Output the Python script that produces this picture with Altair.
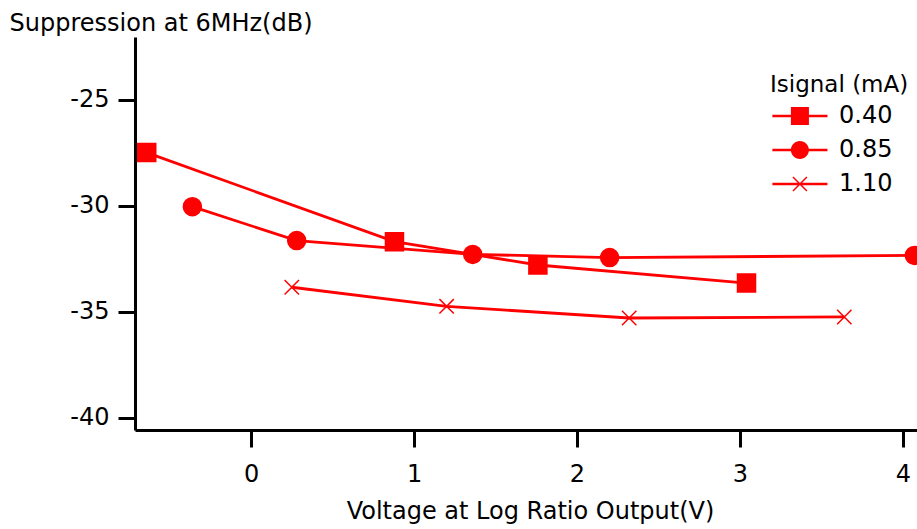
import altair as alt
import pandas as pd

# ---- data ----
series_labels = ["0.40", "0.85", "1.10"]

x_040 = [-0.64, 0.88, 1.76, 3.04]
y_040 = [-27.5, -31.7, -32.8, -33.65]

x_085 = [-0.36, 0.28, 1.36, 2.20, 4.07]
y_085 = [-30.05, -31.65, -32.3, -32.45, -32.35]

x_110 = [0.25, 1.20, 2.32, 3.64]
y_110 = [-33.85, -34.75, -35.3, -35.25]

x_ticks = [0, 1, 2, 3, 4]
y_ticks = [-25, -30, -35, -40]

rows = []
for lab, xs, ys in zip(series_labels, [x_040, x_085, x_110], [y_040, y_085, y_110]):
    for i, (xv, yv) in enumerate(zip(xs, ys)):
        rows.append({"series": lab, "x": xv, "y": yv, "order": i})
df = pd.DataFrame(rows)

RED = "#ff0000"
FONT = "DejaVu Sans"

xscale = alt.Scale(domain=[-0.712, 4.086], nice=False, zero=False)
yscale = alt.Scale(domain=[-40.58, -22.05], nice=False, zero=False)

xaxis = alt.Axis(
    values=x_ticks, grid=False, domainColor="black", domainWidth=3,
    tickColor="black", tickWidth=3, tickSize=17, labelFontSize=24, labelFont=FONT,
    labelColor="black", labelPadding=15, labelExpr="'' + datum.value",
    title="Voltage at Log Ratio Output(V)",
    titleFont=FONT, titleFontSize=24, titleFontWeight="normal", titleColor="black",
    titleX=395, titleY=88, titleBaseline="alphabetic", titleAlign="center",
)
yaxis = alt.Axis(
    values=y_ticks, grid=False, domainColor="black", domainWidth=3,
    tickColor="black", tickWidth=3, tickSize=17, labelFontSize=24, labelFont=FONT,
    labelColor="black", labelPadding=9, labelExpr="'' + datum.value",
    title="Suppression at 6MHz(dB)",
    titleFont=FONT, titleFontSize=24, titleFontWeight="normal", titleColor="black",
    titleAngle=0, titleAlign="left", titleBaseline="alphabetic", titleX=-126, titleY=-7,
)

base = alt.Chart(df)

lines = base.mark_line(color=RED, strokeWidth=2.8, clip=True).encode(
    x=alt.X("x:Q", scale=xscale, axis=xaxis),
    y=alt.Y("y:Q", scale=yscale, axis=yaxis),
    detail="series:N",
    order="order:Q",
)

marker_paths = [
    "M-1,-1H1V1H-1Z",
    "M-1,0A1,1 0 1,0 1,0A1,1 0 1,0 -1,0Z",
    "M-0.8,-0.8L0.8,0.8M-0.8,0.8L0.8,-0.8",
]

points = base.mark_point(
    filled=True, fill=RED, stroke=RED, strokeWidth=1.5, size=324, opacity=1, clip=True
).encode(
    x=alt.X("x:Q", scale=xscale),
    y=alt.Y("y:Q", scale=yscale),
    shape=alt.Shape("series:N", scale=alt.Scale(domain=series_labels, range=marker_paths), legend=None),
)

# legend symbols: line + marker, drawn as filled outlines (all clockwise)
LINE = "M-0.86,-0.08H2.38V0.08H-0.86Z"
legend_paths = [
    LINE + "M0.23,-0.53H1.29V0.53H0.23Z",
    LINE + "M0.23,0A0.53,0.53 0 1,1 1.29,0A0.53,0.53 0 1,1 0.23,0Z",
    LINE
    + "M0.381,-0.441L1.201,0.379L1.139,0.441L0.319,-0.379Z"
    + "M0.319,0.379L1.139,-0.441L1.201,-0.379L0.381,0.441Z",
]

legend_layer = base.mark_point(
    filled=True, fill=RED, strokeWidth=0, opacity=1
).encode(
    x=alt.value(-2000),
    y=alt.value(-2000),
    shape=alt.Shape(
        "series:N",
        scale=alt.Scale(domain=series_labels, range=legend_paths),
        legend=alt.Legend(
            title="Isignal (mA)", orient="none", legendX=635, legendY=37,
            titleFont=FONT, titleFontSize=23, titleFontWeight="normal", titleColor="black",
            titlePadding=2, titleAnchor="start",
            labelFont=FONT, labelFontSize=24, labelColor="black", labelOffset=35,
            symbolSize=1156, symbolStrokeWidth=0, symbolFillColor=RED,
            symbolOpacity=1, rowPadding=5, padding=0,
        ),
    ),
)

chart = (
    alt.layer(lines, points, legend_layer)
    .resolve_scale(shape="independent")
    .properties(
        width=782, height=393,
        autosize=alt.AutoSizeParams(type="none"),
        padding={"left": 135, "top": 37, "right": 0, "bottom": 99},
        background="white",
    )
    .configure_view(stroke=None)
)

chart.save("out.html", embed_options={"renderer": "svg", "actions": False})
